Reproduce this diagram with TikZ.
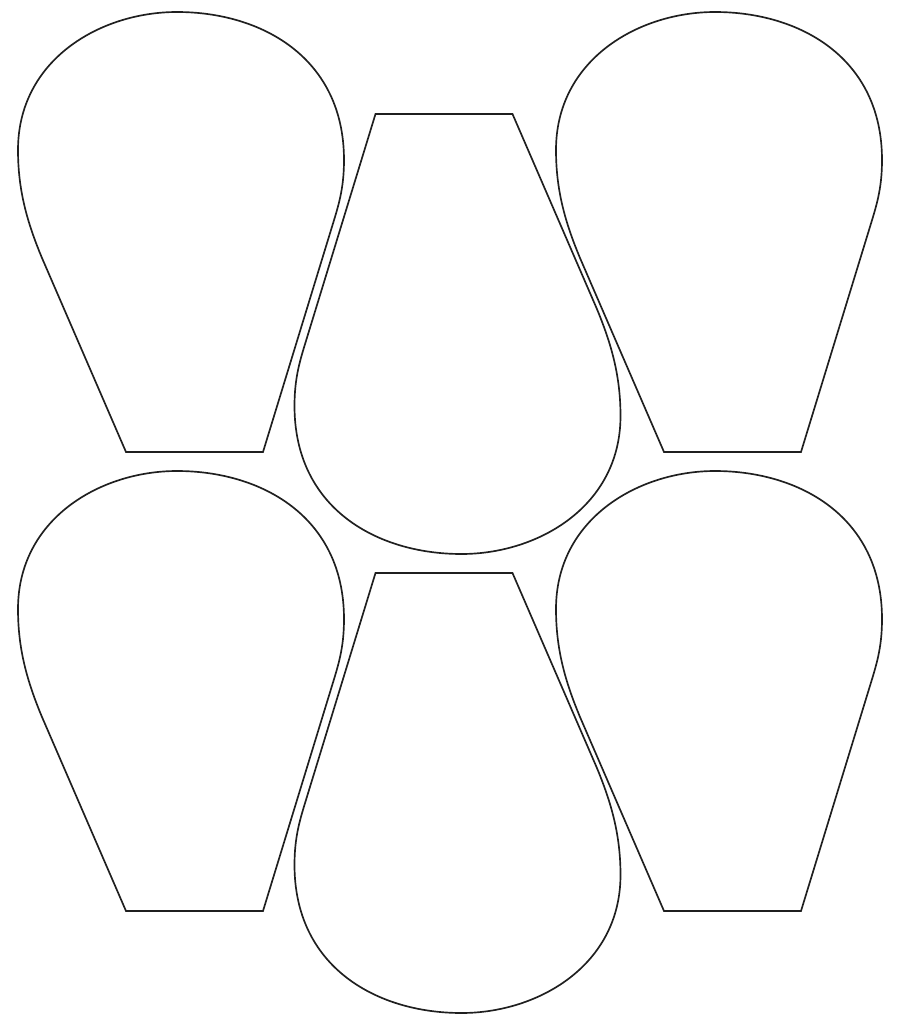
\documentclass[tikz,border=0pt]{standalone}
\begin{document}
\begin{tikzpicture}[x=0.75pt,y=-0.75pt,
  petalline/.style={draw=black!88,line width=1.25pt,line join=miter},
  petal/.pic={
    \draw[petalline] (-55,220) -- (-139,26)
      .. controls (-154,-10) and (-163,-42) .. (-163,-82)
      .. controls (-163,-172) and (-81,-220) .. (-4,-220)
      .. controls (81,-220) and (163,-174) .. (163,-72)
      .. controls (163,-42) and (157,-25) .. (150,-2)
      -- (82,220) -- cycle;
  }]
  \fill[white] (0,0) rectangle (906,1024);
  \useasboundingbox (0,0) rectangle (906,1024);
  % upright petals
  \pic at (181,232) {petal};
  \pic at (719,232) {petal};
  \pic at (181,691) {petal};
  \pic at (719,691) {petal};
  % inverted petals
  \pic[rotate=180] at (457.5,334) {petal};
  \pic[rotate=180] at (457.5,793) {petal};
\end{tikzpicture}
\end{document}
